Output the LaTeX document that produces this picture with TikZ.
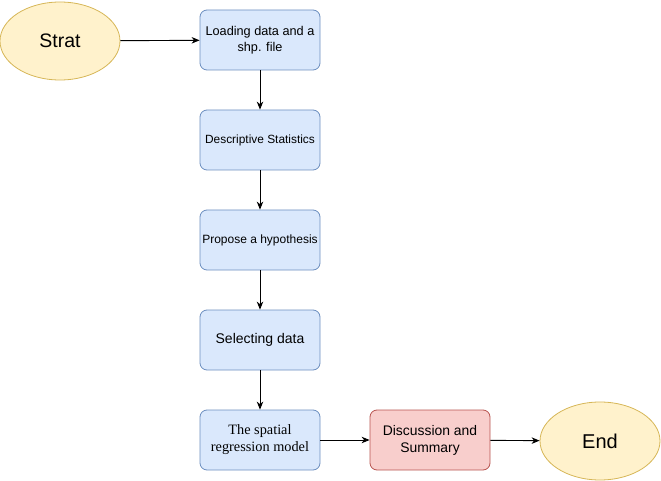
\documentclass[tikz,border=0pt]{standalone}
\usepackage{fontspec}
\setmainfont{Liberation Sans}
\newfontfamily\serifft{Liberation Serif}
\usetikzlibrary{shapes.geometric,arrows.meta}
\definecolor{bfill}{HTML}{DAE8FC}\definecolor{bline}{HTML}{6C8EBF}
\definecolor{yfill}{HTML}{FFF2CC}\definecolor{yline}{HTML}{D6B656}
\definecolor{rfill}{HTML}{F8CECC}\definecolor{rline}{HTML}{B85450}
\tikzset{
  stepbox/.style={rectangle,rounded corners=7pt,draw=bline,fill=bfill,minimum width=120pt,minimum height=60pt,align=center,inner sep=0pt,font=\fontsize{12.7}{16}\selectfont,line width=0.8pt},
  redbox/.style={stepbox,draw=rline,fill=rfill},
  term/.style={ellipse,draw=yline,fill=yfill,minimum width=120pt,minimum height=78pt,inner sep=0pt,font=\fontsize{19.5}{22}\selectfont,line width=0.8pt},
  conn/.style={-{Stealth[length=8pt,width=6.5pt,inset=2.5pt]},line width=0.9pt}
}
\begin{document}
\begin{tikzpicture}[x=1pt,y=-1pt]
\useasboundingbox (0,0) rectangle (661,481);
\node[term] (start) at (60,41) {Strat};
\node[stepbox] (load) at (260,40) {Loading data and a\\shp. file};
\node[stepbox,font=\fontsize{11.9}{14}\selectfont] (desc) at (260,140) {Descriptive Statistics};
\node[stepbox,font=\fontsize{12}{14}\selectfont] (hyp) at (260,240) {Propose a hypothesis};
\node[stepbox,font=\fontsize{14}{16}\selectfont] (sel) at (260,340) {Selecting data};
\node[stepbox,font=\serifft\fontsize{14.3}{17}\selectfont] (model) at (260,440) {The spatial\\regression model};
\node[redbox,font=\fontsize{13.9}{17}\selectfont] (disc) at (430,440) {Discussion and\\Summary};
\node[term,font=\fontsize{20}{22}\selectfont] (end) at (600,441) {End};
\draw[conn] (start) -- (load);
\draw[conn] (load) -- (desc);
\draw[conn] (desc) -- (hyp);
\draw[conn] (hyp) -- (sel);
\draw[conn] (sel) -- (model);
\draw[conn] (model) -- (disc);
\draw[conn] (disc) -- (end);
\end{tikzpicture}
\end{document}
